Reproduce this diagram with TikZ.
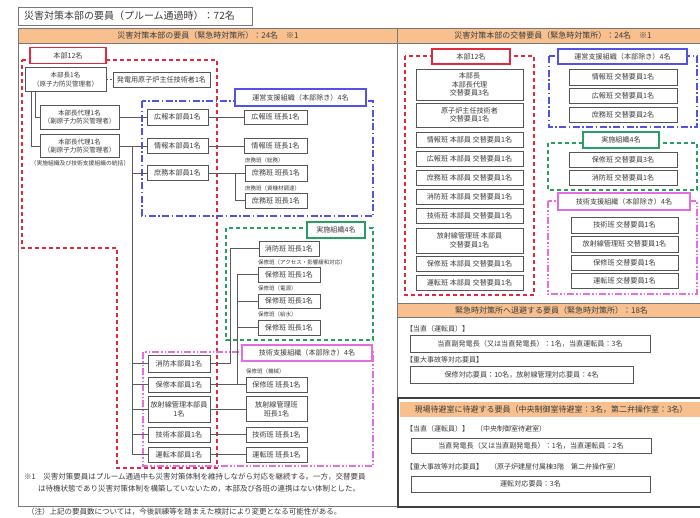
\documentclass[tikz,border=0pt]{standalone}
\usepackage{fontspec}
\setmainfont{Noto Sans CJK JP}
\definecolor{hdrc}{RGB}{247,192,142}
\definecolor{framec}{RGB}{120,120,120}
\definecolor{boxc}{RGB}{85,85,85}
\definecolor{connc}{RGB}{90,90,90}
\definecolor{redc}{RGB}{228,40,62}
\definecolor{bluec}{RGB}{82,82,228}
\definecolor{greenc}{RGB}{40,160,100}
\definecolor{magc}{RGB}{226,110,226}
\definecolor{textc}{RGB}{60,60,60}
\tikzset{
  every node/.style={text=textc},
  bx/.style={draw=boxc, line width=0.8pt, fill=white, inner sep=1pt, align=center, font=\fontsize{7.1}{8.6}\selectfont},
  bxs/.style={bx, font=\fontsize{6.5}{8.2}\selectfont},
  sz/.style 2 args={minimum width=#1pt, minimum height=#2pt},
  lbl/.style={anchor=west, inner sep=0pt, font=\fontsize{5.5}{6.5}\selectfont},
  conn/.style={draw=connc, line width=0.8pt},
  hdr/.style={fill=hdrc, draw=framec, line width=0.6pt},
  hdrtext/.style={inner sep=0pt, font=\fontsize{8}{9.6}\selectfont},
  redgrp/.style={draw=redc, line width=1.3pt, dash pattern=on 4pt off 3pt},
  bluegrp/.style={draw=bluec, line width=1.3pt, dash pattern=on 7pt off 2.5pt on 1.5pt off 2.5pt},
  greengrp/.style={draw=greenc, line width=1.3pt, dash pattern=on 4pt off 3pt},
  maggrp/.style={draw=magc, line width=1.1pt, dash pattern=on 7pt off 2pt on 1.5pt off 2pt on 1.5pt off 2pt},
  redlab/.style={bx, draw=redc, line width=1.1pt},
  bluelab/.style={bx, draw=bluec, line width=1.1pt},
  greenlab/.style={bx, draw=greenc, line width=1.1pt},
  maglab/.style={bx, draw=magc, line width=1.1pt},
  notetext/.style={anchor=west, inner sep=0pt, font=\fontsize{7.5}{9}\selectfont},
  subtext/.style={anchor=west, inner sep=0pt, font=\fontsize{7}{8.4}\selectfont},
}
\begin{document}
\begin{tikzpicture}[x=1pt,y=-1pt]
\useasboundingbox (0,0) rectangle (700,517);
\fill[white] (0,0) rectangle (700,517);

% ---------- title ----------
\node[draw=framec, line width=0.8pt, text width=222pt, inner xsep=6pt, inner ysep=0pt, minimum height=18pt, align=left, font=\fontsize{10}{12}\selectfont] (title) at (135,16) {災害対策本部の要員（プルーム通過時）：72名};

% ---------- panels ----------
\draw[framec, line width=0.8pt] (18,28) rectangle (397,506);
\draw[hdr] (18,28) rectangle (397,43);
\node[hdrtext] (lhead) at (208,35.5) {災害対策本部の要員（緊急時対策所）：24名　※1};

\draw[framec, line width=0.8pt] (397,28) rectangle (703,303);
\draw[hdr] (397,28) rectangle (703,43);
\node[hdrtext] (rhead) at (553,35.5) {災害対策本部の交替要員（緊急時対策所）：24名　※1};

\draw[framec, line width=0.8pt] (397,303) rectangle (703,397);
\draw[hdr] (397,303) rectangle (703,317);
\node[hdrtext] (mhead) at (551.5,310) {緊急時対策所へ退避する要員（緊急時対策所）：18名};

\draw[black!75, line width=2pt] (398,398) rectangle (703,507);
\fill[hdrc] (400,402) rectangle (703,417);
\node[hdrtext] (bhead) at (551,409.5) {現場待避室に待避する要員（中央制御室待避室：3名，第二弁操作室：3名）};

% ---------- group outlines ----------
\draw[redgrp] (22,60) -- (217,60) -- (217,468) -- (117,468) -- (117,248) -- (22,248) -- cycle;
\draw[bluegrp] (142,101) rectangle (373,216);
\draw[greengrp] (226,228) rectangle (373,340);
\draw[maggrp] (143,352) rectangle (373,466);

\draw[redgrp] (405,56) rectangle (534,295);
\draw[bluegrp] (549,56) rectangle (697,127);
\draw[greengrp] (548,143) rectangle (697,190);
\draw[maggrp] (548,201) rectangle (697,294);

% ---------- group labels ----------
\node[redlab, sz={76}{16}] (lhonbu) at (68,55.5) {本部12名};
\node[bluelab, sz={131}{17}] (lunei) at (300.5,97.5) {運営支援組織（本部除き）4名};
\node[greenlab, sz={58}{16}] (ljisshi) at (336,230) {実施組織4名};
\node[maglab, sz={130}{16}] (lgijutsu) at (307,353) {技術支援組織（本部除き）4名};

\node[redlab, sz={78}{15}] (rhonbu) at (471,56.5) {本部12名};
\node[bluelab, sz={129}{15}] (runei) at (622.5,56.5) {運営支援組織（本部除き）4名};
\node[greenlab, sz={76}{16}] (rjisshi) at (621,140) {実施組織4名};
\node[maglab, sz={132}{17}] (rgijutsu) at (624,201.5) {技術支援組織（本部除き）4名};

% ---------- left: headquarters ----------
\node[bxs, sz={81}{24}] (honbucho) at (65.5,79.5) {本部長1名\\（原子力防災管理者）};
\node[bx, sz={97}{15}] (shunin) at (161.5,79.5) {発電用原子炉主任技術者1名};
\node[bxs, sz={79}{24}] (dairi1) at (79.5,117) {本部長代理1名\\（副原子力防災管理者）};
\node[bxs, sz={79}{23}] (dairi2) at (79.5,146) {本部長代理1名\\（副原子力防災管理者）};
\node[inner sep=0pt, font=\fontsize{5.8}{7}\selectfont] (tokatsu) at (80,163.5) {（実施組織及び技術支援組織の統括）};

\node[bx, sz={61}{16}] (kouhouH) at (177.5,117) {広報本部員1名};
\node[bx, sz={61}{15}] (jouhouH) at (177.5,146) {情報本部員1名};
\node[bx, sz={61}{15}] (shomuH) at (177.5,173) {庶務本部員1名};

\node[bx, sz={62}{17}] (shoboH) at (179,363.5) {消防本部員1名};
\node[bx, sz={62}{15}] (hoshuH) at (179,384.5) {保修本部員1名};
\node[bx, sz={62}{26}] (houshaH) at (179,409) {放射線管理本部員\\1名};
\node[bx, sz={62}{15}] (gijutsuH) at (179,434.5) {技術本部員1名};
\node[bx, sz={62}{15}] (untenH) at (179,454.5) {運転本部員1名};

% ---------- left: operation support ----------
\node[bx, sz={63}{14}] (kouhouHan) at (275.5,117) {広報班 班長1名};
\node[bx, sz={63}{15}] (jouhouHan) at (275.5,146) {情報班 班長1名};
\node[lbl] (shomuL1) at (245,160.5) {庶務班（総務）};
\node[bx, sz={62}{16}] (shomuHan1) at (276,173) {庶務班 班長1名};
\node[lbl] (shomuL2) at (245,188.5) {庶務班（資機材調達）};
\node[bx, sz={62}{15}] (shomuHan2) at (276,200.5) {庶務班 班長1名};

% ---------- left: implementation ----------
\node[bx, sz={60}{15}] (shoboHan) at (289,248.5) {消防班 班長1名};
\node[lbl] (hoshuL1) at (258,262) {保修班（アクセス・影響緩和対応）};
\node[bx, sz={62}{15}] (hoshuHan1) at (289,274.5) {保修班 班長1名};
\node[lbl] (hoshuL2) at (258,288) {保修班（電源）};
\node[bx, sz={62}{14}] (hoshuHan2) at (289,301) {保修班 班長1名};
\node[lbl] (hoshuL3) at (258,314.5) {保修班（給水）};
\node[bx, sz={62}{15}] (hoshuHan3) at (289,327.5) {保修班 班長1名};

% ---------- left: technical support ----------
\node[lbl] (hoshuL4) at (246,371.5) {保修班（機械）};
\node[bx, sz={61}{15}] (hoshuHanT) at (276.5,384.5) {保修班 班長1名};
\node[bx, sz={61}{25}] (houshaHan) at (276.5,409) {放射線管理班\\班長1名};
\node[bx, sz={61}{15}] (gijutsuHan) at (276.5,434.5) {技術班 班長1名};
\node[bx, sz={61}{15}] (untenHan) at (276.5,454.5) {運転班 班長1名};

% ---------- left: connectors ----------
\draw[conn, dash pattern=on 2pt off 1.5pt] (honbucho.east) -- (shunin.west);
\draw[conn] ([xshift=-30.5pt]honbucho.south) |- (dairi1.west);
\draw[conn] ([xshift=-34.5pt]honbucho.south) |- (dairi2.west);
\draw[conn] (dairi1.east) -- (kouhouH.west);
\draw[conn] (kouhouH.east) -- (kouhouHan.west);
\draw[conn] (dairi2.east) -- (jouhouH.west);
\draw[conn] (jouhouH.east) -- (jouhouHan.west);
\coordinate (trunkTop) at (132,146);
\coordinate (trunkBot) at (132,454.5);
\draw[conn] (trunkTop) -- (trunkBot);
\draw[conn] (trunkTop |- shomuH.west) -- (shomuH.west);
\draw[conn] (trunkTop |- shoboH.west) -- (shoboH.west);
\draw[conn] (trunkTop |- hoshuH.west) -- (hoshuH.west);
\draw[conn] (trunkTop |- houshaH.west) -- (houshaH.west);
\draw[conn] (trunkTop |- gijutsuH.west) -- (gijutsuH.west);
\draw[conn] (trunkBot) -- (untenH.west);

\draw[conn] (shomuH.east) -- (shomuHan1.west);
\coordinate (sj) at (235,173);
\draw[conn] (sj) |- (shomuHan2.west);

\draw[conn] (shoboH.east) -- ++(20,0) |- (shoboHan.west);
\draw[conn] (hoshuH.east) -- (hoshuHanT.west);
\coordinate (hj) at (237,384.5);
\draw[conn] (hj) |- (hoshuHan1.west);
\draw[conn] (hj |- hoshuHan2.west) -- (hoshuHan2.west);
\draw[conn] (hj |- hoshuHan3.west) -- (hoshuHan3.west);
\draw[conn] (houshaH.east) -- (houshaHan.west);
\draw[conn] (gijutsuH.east) -- (gijutsuHan.west);
\draw[conn] (untenH.east) -- (untenHan.west);

% ---------- left: notes ----------
\node[notetext] (note1) at (24,477) {※1　災害対策要員はプルーム通過中も災害対策体制を維持しながら対応を継続する。一方，交替要員};
\node[notetext] (note1b) at (38,488.5) {は待機状態であり災害対策体制を構築していないため，本部及び各班の連携はない体制とした。};
\node[notetext] (note2) at (27,512) {（注）上記の要員数については，今後訓練等を踏まえた検討により変更となる可能性がある。};

% ---------- right: headquarters replacements ----------
\node[bx, sz={107}{31}] (r1) at (469.5,84.5) {本部長\\本部長代理\\交替要員3名};
\node[bx, sz={107}{24}] (r2) at (469.5,115) {原子炉主任技術者\\交替要員1名};
\node[bx, sz={107}{15}] (r3) at (469.5,139.5) {情報班 本部員 交替要員1名};
\node[bx, sz={107}{15}] (r4) at (469.5,158.5) {広報班 本部員 交替要員1名};
\node[bx, sz={107}{15}] (r5) at (469.5,177.5) {庶務班 本部員 交替要員1名};
\node[bx, sz={107}{15}] (r6) at (469.5,196.5) {消防班 本部員 交替要員1名};
\node[bx, sz={107}{15}] (r7) at (469.5,215.5) {技術班 本部員 交替要員1名};
\node[bx, sz={107}{25}] (r8) at (469.5,240.5) {放射線管理班 本部員\\交替要員1名};
\node[bx, sz={107}{15}] (r9) at (469.5,263.5) {保修班 本部員 交替要員1名};
\node[bx, sz={107}{15}] (r10) at (469.5,282.5) {運転班 本部員 交替要員1名};

\node[bx, sz={108}{16}] (b1) at (623,77) {情報班 交替要員1名};
\node[bx, sz={108}{15}] (b2) at (623,95.5) {広報班 交替要員1名};
\node[bx, sz={108}{15}] (b3) at (623,114.5) {庶務班 交替要員2名};

\node[bx, sz={108}{15}] (g1) at (623,159.5) {保修班 交替要員3名};
\node[bx, sz={108}{15}] (g2) at (623,177.5) {消防班 交替要員1名};

\node[bx, sz={107}{16}] (m1) at (624.5,225) {技術班 交替要員1名};
\node[bx, sz={107}{16}] (m2) at (624.5,244) {放射線管理班 交替要員1名};
\node[bx, sz={107}{15}] (m3) at (624.5,262.5) {保修班 交替要員1名};
\node[bx, sz={107}{15}] (m4) at (624.5,280.5) {運転班 交替要員1名};

% ---------- middle panel ----------
\node[subtext] (mt1) at (406,329) {【当直（運転員）】};
\node[bx, sz={240}{17}] (mb1) at (530,343.5) {当直副発電長（又は当直発電長）：1名，当直運転員：3名};
\node[subtext] (mt2) at (406,360) {【重大事故等対応要員】};
\node[bx, sz={223}{17}] (mb2) at (521.5,374.5) {保修対応要員：10名，放射線管理対応要員：4名};

% ---------- bottom panel ----------
\node[subtext] (bt1) at (406,429) {【当直（運転員）】　（中央制御室待避室）};
\node[bx, sz={240}{15}] (bb1) at (531,445.5) {当直発電長（又は当直副発電長）：1名，当直運転員：2名};
\node[subtext] (bt2) at (406,467) {【重大事故等対応要員】　（原子炉建屋付属棟3階　第二弁操作室）};
\node[bx, sz={239}{16}] (bb2) at (530.5,484) {運転対応要員：3名};
\end{tikzpicture}
\end{document}
